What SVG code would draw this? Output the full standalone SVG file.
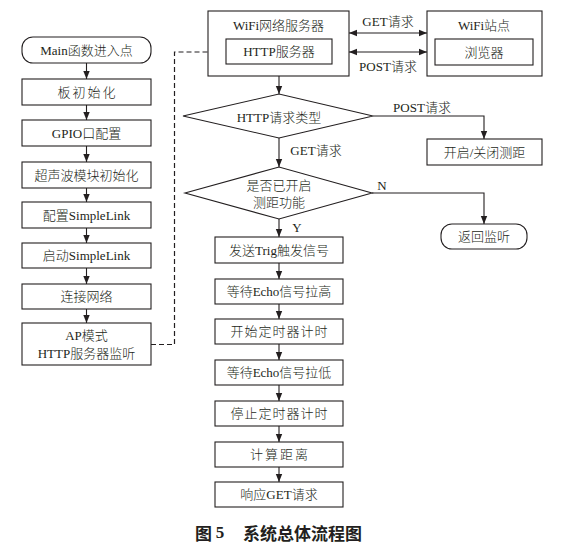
<svg xmlns="http://www.w3.org/2000/svg" width="561" height="548" viewBox="0 0 561 548">
<defs>
<marker id="ah" viewBox="0 0 8 8" refX="8" refY="4" markerWidth="8" markerHeight="8" markerUnits="userSpaceOnUse" orient="auto-start-reverse">
<path d="M0,0.8 L8,4 L0,7.2 Z" fill="#231f20"/>
</marker>
<style>
.b{fill:#fff;stroke:#231f20;stroke-width:1.1}
.a{fill:none;stroke:#231f20;stroke-width:1.1;marker-end:url(#ah)}
.d{fill:none;stroke:#231f20;stroke-width:1.2;stroke-dasharray:5 3}
text{font-family:"Liberation Serif","Noto Sans CJK SC",serif;font-size:13px;font-weight:300;fill:#231f20;text-anchor:middle;dominant-baseline:central}
text.cap{font-family:"Noto Sans CJK SC","Liberation Sans",sans-serif;font-size:17px;font-weight:bold;text-anchor:start}
</style>
</defs>
<rect width="561" height="548" fill="#fff"/>
<g id="connectors">
<line class="a" x1="86.5" y1="63" x2="86.5" y2="79"/>
<line class="a" x1="86.5" y1="105" x2="86.5" y2="120"/>
<line class="a" x1="86.5" y1="146" x2="86.5" y2="162"/>
<line class="a" x1="86.5" y1="188" x2="86.5" y2="202"/>
<line class="a" x1="86.5" y1="228" x2="86.5" y2="243"/>
<line class="a" x1="86.5" y1="268" x2="86.5" y2="284"/>
<line class="a" x1="86.5" y1="309" x2="86.5" y2="323"/>
<polyline class="d" points="151,344.5 174.5,344.5 174.5,52 218,52"/>
<path d="M218,48.8 L226,52 L218,55.2 Z" fill="#231f20"/>
<line class="a" x1="349" y1="33" x2="427" y2="33" style="marker-start:url(#ah)"/>
<line class="a" x1="349" y1="52" x2="427" y2="52" style="marker-start:url(#ah)"/>
<line class="a" x1="279" y1="76" x2="279" y2="94"/>
<polyline class="a" points="373,116 484,116 484,139"/>
<line class="a" x1="279" y1="138" x2="279" y2="167"/>
<polyline class="a" points="372,193 484,193 484,224"/>
<line class="a" x1="279" y1="219" x2="279" y2="237"/>
<line class="a" x1="279" y1="263" x2="279" y2="279"/>
<line class="a" x1="279" y1="304" x2="279" y2="319"/>
<line class="a" x1="279" y1="344" x2="279" y2="360"/>
<line class="a" x1="279" y1="385" x2="279" y2="401"/>
<line class="a" x1="279" y1="426" x2="279" y2="442"/>
<line class="a" x1="279" y1="467" x2="279" y2="482"/>
<text x="388" y="21">GET请求</text>
<text x="388" y="66">POST请求</text>
<text x="422" y="107">POST请求</text>
<text x="316" y="150">GET请求</text>
<text x="382" y="185">N</text>
<text x="297" y="227">Y</text>
</g>
<g id="n_main"><rect class="b" x="22" y="37" width="129" height="26" rx="11"/><text x="86.5" y="50">Main函数进入点</text></g>
<g id="n_board"><rect class="b" x="22" y="79" width="129" height="26"/><text x="87.5" y="92" letter-spacing="2">板初始化</text></g>
<g id="n_gpio"><rect class="b" x="22" y="120" width="129" height="26"/><text x="86.5" y="133">GPIO口配置</text></g>
<g id="n_ultra"><rect class="b" x="22" y="162" width="129" height="26"/><text x="86.5" y="175">超声波模块初始化</text></g>
<g id="n_cfg"><rect class="b" x="22" y="202" width="129" height="26"/><text x="86.5" y="215">配置SimpleLink</text></g>
<g id="n_start"><rect class="b" x="22" y="243" width="129" height="25"/><text x="86.5" y="255.5">启动SimpleLink</text></g>
<g id="n_net"><rect class="b" x="22" y="284" width="129" height="25"/><text x="86.5" y="296.5">连接网络</text></g>
<g id="n_ap"><rect class="b" x="22" y="323" width="129" height="42"/><text x="86.5" y="335">AP模式</text><text x="86.5" y="353">HTTP服务器监听</text></g>
<g id="n_server"><rect class="b" x="208" y="11" width="141" height="65"/><text x="278.5" y="25">WiFi网络服务器</text><rect class="b" x="226" y="39" width="106" height="25"/><text x="279" y="51.5">HTTP服务器</text></g>
<g id="n_station"><rect class="b" x="427" y="11" width="115" height="65"/><text x="484" y="25">WiFi站点</text><rect class="b" x="435" y="39" width="98" height="26"/><text x="484" y="52">浏览器</text></g>
<g id="n_type"><polygon class="b" points="183,116 279,94 373,116 279,138"/><text x="279" y="117">HTTP请求类型</text></g>
<g id="n_toggle"><rect class="b" x="427" y="139" width="115" height="26"/><text x="484.5" y="152">开启/关闭测距</text></g>
<g id="n_check"><polygon class="b" points="185,193 279,167 372,193 279,219"/><text x="279" y="185">是否已开启</text><text x="279" y="202">测距功能</text></g>
<g id="n_return"><rect class="b" x="441" y="224" width="86" height="25" rx="11"/><text x="484" y="236.5">返回监听</text></g>
<g id="n_trig"><rect class="b" x="215" y="237" width="128" height="26"/><text x="279" y="250">发送Trig触发信号</text></g>
<g id="n_echohi"><rect class="b" x="215" y="279" width="128" height="25"/><text x="279" y="291.5">等待Echo信号拉高</text></g>
<g id="n_tstart"><rect class="b" x="215" y="319" width="128" height="25"/><text x="279.5" y="331.5" letter-spacing="1">开始定时器计时</text></g>
<g id="n_echolo"><rect class="b" x="215" y="360" width="128" height="25"/><text x="279" y="372.5">等待Echo信号拉低</text></g>
<g id="n_tstop"><rect class="b" x="215" y="401" width="128" height="25"/><text x="279.5" y="413.5" letter-spacing="1">停止定时器计时</text></g>
<g id="n_calc"><rect class="b" x="215" y="442" width="128" height="25"/><text x="280" y="454.5" letter-spacing="2">计算距离</text></g>
<g id="n_resp"><rect class="b" x="215" y="482" width="128" height="25"/><text x="279" y="494.5">响应GET请求</text></g>
<text class="cap" x="195" y="532">图 <tspan font-family="Liberation Serif">5</tspan></text>
<text class="cap" x="243" y="532">系统总体流程图</text>
</svg>
